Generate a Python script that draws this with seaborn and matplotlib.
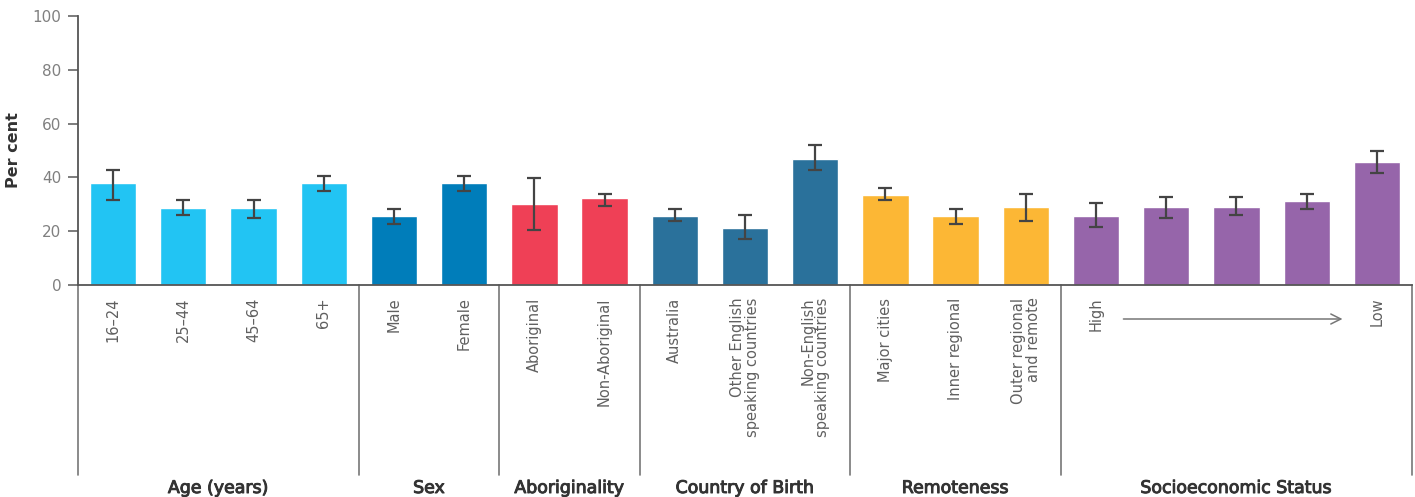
import numpy as np
import pandas as pd
import matplotlib
matplotlib.use("Agg")
import matplotlib.pyplot as plt
import matplotlib.transforms as mtransforms
import matplotlib.patheffects as pe
import seaborn as sns

# ---- data ----
groups = ["Age (years)", "Sex", "Aboriginality", "Country of Birth", "Remoteness", "Socioeconomic Status"]
group_sizes = [4, 2, 2, 3, 3, 5]
categories = ["16–24", "25–44", "45–64", "65+",
              "Male", "Female",
              "Aboriginal", "Non-Aboriginal",
              "Australia", "Other English speaking countries", "Non-English speaking countries",
              "Major cities", "Inner regional", "Outer regional and remote",
              "SES 1", "SES 2", "SES 3", "SES 4", "SES 5"]
tick_labels = ["16–24", "25–44", "45–64", "65+",
               "Male", "Female",
               "Aboriginal", "Non-Aboriginal",
               "Australia", "Other English\nspeaking countries", "Non-English\nspeaking countries",
               "Major cities", "Inner regional", "Outer regional\nand remote",
               "High", "", "", "", "Low"]
values = [37.9, 28.8, 28.8, 37.9,
          25.6, 37.9,
          30.2, 32.3,
          25.7, 21.2, 46.8,
          33.4, 25.7, 29.0,
          25.7, 29.0, 29.0, 31.2, 45.7]
ci_low = [31.6, 26.1, 24.9, 35.0,
          22.7, 35.0,
          20.4, 29.3,
          23.9, 17.2, 42.7,
          31.6, 22.7, 23.8,
          21.6, 24.9, 26.1, 28.2, 41.7]
ci_high = [42.8, 31.7, 31.7, 40.7,
           28.4, 40.7,
           39.6, 33.9,
           28.4, 26.2, 51.9,
           36.2, 28.4, 33.9,
           30.6, 32.8, 32.8, 33.9, 49.7]
group_colors = ["#22C4F3", "#007DBA", "#EF4056", "#2A719B", "#FCB735", "#9665AA"]

group_of = [g for g, n in zip(groups, group_sizes) for _ in range(n)]
df = pd.DataFrame({"category": categories, "value": values, "group": group_of})

sns.set_theme(style="white")
plt.rcParams["font.family"] = ["DejaVu Sans"]

W, H = 1415, 497
fig = plt.figure(figsize=(W / 100, H / 100), dpi=100)
ax_left, ax_right, ax_top, ax_bot = 78, 1412, 16, 285
ax = fig.add_axes([ax_left / W, 1 - ax_bot / H, (ax_right - ax_left) / W, (ax_bot - ax_top) / H])

sns.barplot(data=df, x="category", y="value", hue="group", palette=dict(zip(groups, group_colors)),
            dodge=False, width=0.66, errorbar=None, legend=False, ax=ax, saturation=1)

x = np.arange(len(categories))
v = np.array(values)
yerr = np.vstack([v - np.array(ci_low), np.array(ci_high) - v])
ax.errorbar(x, v, yerr=yerr, fmt="none", ecolor="#444444", elinewidth=1.6, capsize=5, capthick=1.6)

ax.set_xlim(-0.5, len(categories) - 0.5)
ax.set_ylim(0, 100)
ax.set_yticks([0, 20, 40, 60, 80, 100])
ax.tick_params(axis="y", which="both", left=True, length=7, width=1.2, color="#666666",
               labelsize=11, labelcolor="#808080", pad=5)
ax.set_xticks(x)
ax.set_xticklabels(tick_labels, rotation=90, va="top", ha="center", multialignment="right",
                   fontsize=10.5, color="#606060", linespacing=1.0)
ax.tick_params(axis="x", length=0, pad=9)
ax.set_xlabel("")
ax.set_ylabel("Per cent", fontsize=11.5, fontweight="bold", color="#333333", labelpad=8)

for s in ["top", "right"]:
    ax.spines[s].set_visible(False)
for s in ["left", "bottom"]:
    ax.spines[s].set_color("#555555")
    ax.spines[s].set_linewidth(1.3)

trans = mtransforms.blended_transform_factory(ax.transData, ax.transAxes)
axh = ax_bot - ax_top
y_div = (ax_bot - 475) / axh
y_lab = (ax_bot - 488) / axh
bounds = np.concatenate([[0], np.cumsum(group_sizes)]) - 0.5
for b in bounds:
    ax.plot([b, b], [0, y_div], transform=trans, color="#777777", lw=1.2, clip_on=False)
for g, lo, hi in zip(groups, bounds[:-1], bounds[1:]):
    ax.text((lo + hi) / 2, y_lab, g, transform=trans, ha="center", va="center",
            fontsize=12.5, color="#333333", clip_on=False,
            path_effects=[pe.withStroke(linewidth=0.7, foreground="#333333")])

# arrow High -> Low
y_arr = (ax_bot - 319) / axh
ax.annotate("", xy=(17.55, y_arr), xytext=(14.35, y_arr), xycoords=trans, textcoords=trans,
            arrowprops=dict(arrowstyle="->", color="#777777", lw=1.1, mutation_scale=18),
            annotation_clip=False)

fig.savefig("out.png", dpi=100)
